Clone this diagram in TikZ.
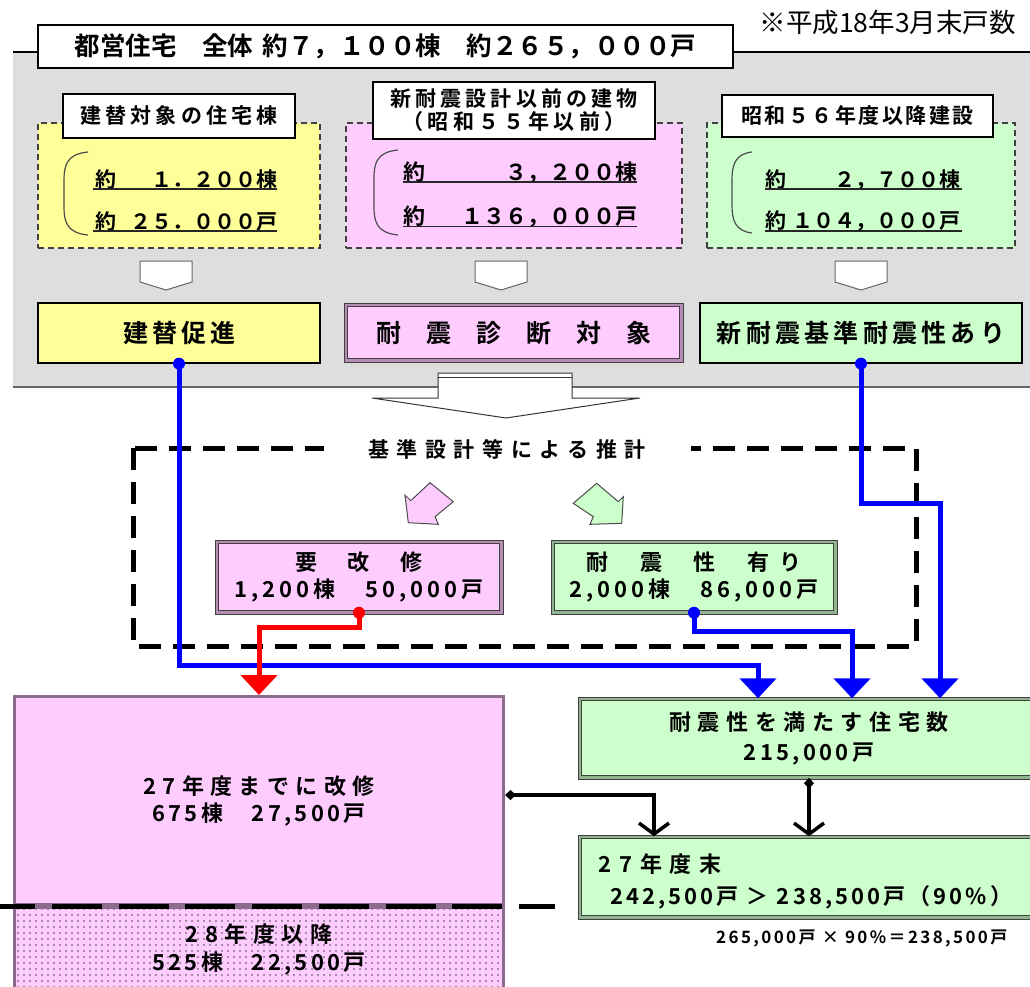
\documentclass[tikz,border=0pt]{standalone}
\usepackage{fontspec}
\newfontfamily\jb{Noto Sans CJK JP}[UprightFont=* Bold]
\newfontfamily\jr{Noto Sans CJK JP}
\usetikzlibrary{arrows.meta,patterns.meta,calc}
\definecolor{yelF}{HTML}{FFFF99}
\definecolor{pinkF}{HTML}{FFCCFF}
\definecolor{greenF}{HTML}{CCFFCC}
\definecolor{panel}{HTML}{DEDEDE}
\definecolor{pband}{HTML}{B48CB4}
\definecolor{gband}{HTML}{8FB48F}
\definecolor{kborder}{HTML}{8C6C8C}
\definecolor{bl}{HTML}{0000FF}
\definecolor{rd}{HTML}{FF0000}
\newcommand{\fsz}[2]{\fontsize{#1}{#2}\selectfont}
\newcommand{\lsp}[1]{\addfontfeature{LetterSpace=#1}}
\tikzset{
 lbl/.style={draw=black, line width=1.1pt, fill=white, inner sep=0pt, font=\jb\fsz{21}{23}},
 dashbx/.style={draw=black!75, line width=1.3pt, dash pattern=on 6pt off 4pt, inner sep=0pt},
 plainbx/.style={draw=black, line width=1.3pt, inner sep=0pt},
 pdbl/.style={draw=black!75, double=pband, double distance=2.5pt, line width=1pt, fill=pinkF, inner sep=0pt},
 gdbl/.style={draw=black!75, double=gband, double distance=2.5pt, line width=1pt, fill=greenF, inner sep=0pt},
 wharrow/.style={draw=black!60, line width=1pt, fill=white},
 numtxt/.style={anchor=west, inner sep=0pt, font=\jb\fsz{21}{23}},
 uline/.style={draw=black!85, line width=1.3pt},
 brk/.style={draw=black!70, line width=1.2pt},
 bline/.style={draw=bl, line width=5pt, -{Triangle[width=36pt,length=20pt]}},
 rline/.style={draw=rd, line width=5pt, -{Triangle[width=36pt,length=20pt]}},
 kline/.style={draw=black, line width=3.5pt, {Diamond[length=11pt,width=10pt]}-{Straight Barb[length=11pt,width=30pt]}},
 pent/.style={draw=black!70, line width=1pt}
}
\begin{document}
\begin{tikzpicture}[x=1pt,y=-1pt,font=\jb]
\useasboundingbox (0,0) rectangle (1030,987);
\clip (0,0) rectangle (1030,987);
\fill[white] (0,0) rectangle (1030,987);
% gray panel
\fill[panel] (13,52) rectangle (1040,387);
\draw[line width=1.2pt] (13,52) -- (1040,52);
\draw[black!60,line width=1.2pt] (13,387) -- (1040,387);
% title and note
\node[plainbx, fill=white, minimum width=695pt, minimum height=43pt, font=\jb\fsz{25.5}{30}] (title) at (385.5,46.5) {都営住宅　全体\hspace{10pt}約７，１００棟　約２６５，０００戸};
\node[anchor=east, inner sep=0pt, font=\jr\fsz{26.5}{28}] (note) at (1016,22) {※平成18年3月末戸数};
% dashed boxes
\node[dashbx, fill=yelF, minimum width=282pt, minimum height=125pt] (ybox) at (179,185.5) {};
\node[dashbx, fill=pinkF, minimum width=336pt, minimum height=125pt] (pbox) at (514,185.5) {};
\node[dashbx, fill=greenF, minimum width=308pt, minimum height=125pt] (gbox) at (861,185.5) {};
\node[lbl, minimum width=232pt, minimum height=44pt] (ylab) at (179,116) {\lsp{20}建替対象の住宅棟};
\node[lbl, minimum width=282pt, minimum height=57pt, align=center] (plab) at (514,110.5) {{\lsp{20}新耐震設計以前の建物}\\{\lsp{20}（昭和５５年以前）}};
\node[lbl, minimum width=271pt, minimum height=42pt] (glab) at (857.5,116) {\lsp{12}昭和５６年度以降建設};
% brackets
\draw[brk] (88,152) .. controls (67,154) and (64,165) .. (64,180) -- (64,207) .. controls (64,222) and (67,233) .. (88,235);
\draw[brk] (398,150) .. controls (377,152) and (374,163) .. (374,178) -- (374,207) .. controls (374,222) and (377,233) .. (398,235);
\draw[brk] (752,152) .. controls (735,154) and (732,165) .. (732,180) -- (732,205) .. controls (732,220) and (735,231) .. (752,233);
% numbers
\node[numtxt, text width=182pt] (y1) at (95,180) {約\hfill １．２００棟};
\node[numtxt, text width=182pt] (y2) at (95,221.5) {約\hfill ２５．０００戸};
\draw[uline] (93,189) -- (277,189);
\draw[uline] (93,231) -- (277,231);
\node[numtxt, text width=234pt, font=\jb\fsz{22}{24}] (p1) at (403,172.5) {約\hfill ３，２００棟};
\node[numtxt, text width=234pt, font=\jb\fsz{22}{24}] (p2) at (403,216.5) {約\hfill １３６，０００戸};
\draw[uline] (403,182) -- (637,182);
\draw[uline] (403,226.5) -- (637,226.5);
\node[numtxt, text width=195pt] (g1) at (765,180) {約\hfill ２，７００棟};
\node[numtxt, text width=195pt] (g2) at (765,221.5) {約\hfill １０４，０００戸};
\draw[uline] (765,189) -- (962,189);
\draw[uline] (765,231) -- (962,231);
% small white arrows
\foreach \c in {166,501,861}{
  \draw[wharrow] (\c-26,261) -- (\c+26,261) -- (\c+26,282) -- (\c,290) -- (\c-26,282) -- cycle;
}
% second row boxes
\node[plainbx, fill=yelF, minimum width=282pt, minimum height=60pt, font=\jb\fsz{25}{28}] (kaichiku) at (179,333) {\lsp{16}建替促進};
\node[pdbl, minimum width=335.5pt, minimum height=55.5pt, font=\jb\fsz{25}{28}] (shindan) at (513.5,332.5) {耐　震　診　断　対　象};
\node[plainbx, fill=greenF, minimum width=322pt, minimum height=60pt, font=\jb\fsz{25}{28}] (taishin) at (861,333) {\lsp{17}新耐震基準耐震性あり};
% big arrow
\draw[black!80, fill=white, line width=1pt] (438,373) -- (572,373) -- (572,398) -- (640,398) -- (506,418) -- (372,398) -- (438,398) -- cycle;
\draw[black!80, line width=1pt] (438,377) -- (572,377);
% dashed estimation region
\draw[line width=5pt, dash pattern=on 22pt off 12pt] (133,448) rectangle (916,646);
\node[fill=white, inner sep=0pt, minimum width=367pt, minimum height=16pt, font=\jb\fsz{21}{23}] (suikei) at (507,449) {\lsp{36}基準設計等による推計};
% pentagon arrows
\draw[pent, fill=pinkF] (408.3,522.7) -- (405,495) -- (410.7,500.7) -- (430,482.7) -- (453.3,501.7) -- (435,516.7) -- (438.3,524.3) -- cycle;
\draw[pent, fill=greenF] (621.7,523.3) -- (623.3,496.7) -- (618.3,501.7) -- (596.7,483.3) -- (573.3,503.3) -- (593.3,516.7) -- (590,524.3) -- cycle;
% estimate boxes
\node[pdbl, minimum width=284.5pt, minimum height=70.5pt, align=center, font=\jb\fsz{22}{27}] (yokaishu) at (359,577) {{\lsp{20}要　改　修}\\{\lsp{18}1,200棟　50,000戸}};
\node[gdbl, minimum width=282.5pt, minimum height=70.5pt, align=center, font=\jb\fsz{22}{27}] (taishinari) at (694,577) {{\lsp{22}耐　震　性　有 り}\\{\lsp{18}2,000棟　86,000戸}};
% lower-left pink boxes
\node[draw=kborder, line width=3pt, fill=pinkF, minimum width=489pt, minimum height=208pt, inner sep=0pt, align=center, font=\jb\fsz{22}{27}] (kaishu) at (259,800.5) {{\lsp{29}27年度までに改修}\\{\lsp{15}675棟　27,500戸}};
\node[draw=kborder, line width=3pt, preaction={fill=pinkF}, pattern={Dots[distance=6pt,radius=0.8pt]}, pattern color=black!70, minimum width=489pt, minimum height=83pt, inner sep=0pt, align=center, font=\jb\fsz{22}{28}] (ikou) at (259,949) {{\lsp{30}28年度以降}\\{\lsp{15}525棟　22,500戸}};
\coordinate (sepL) at (-14.7,906);
\coordinate (sepR) at (555,906);
\draw[line width=5pt, dash pattern=on 50pt off 16.7pt] (sepL) -- (sepR);
% right green boxes
\node[gdbl, minimum width=458.5pt, minimum height=78.5pt, align=center, font=\jb\fsz{22}{30}] (mitasu) at (809,738) {{\lsp{30}耐震性を満たす住宅数}\\{\lsp{15}215,000戸}};
\node[gdbl, minimum width=458.5pt, minimum height=80.5pt] (matsu) at (809,877) {};
\node[anchor=west, inner sep=0pt, align=left, font=\jb\fsz{22}{32}] (matsutxt) at (598,881) {{\lsp{36}27年度末}\\\hspace*{12pt}{\lsp{14}242,500戸 ＞ 238,500戸（90\%）}};
\node[anchor=west, inner sep=0pt, font=\jb\fsz{17}{20}] (calc) at (716,938) {\lsp{14}265,000戸 × 90\%＝238,500戸};
% connectors
\coordinate (cA) at (758,665);
\coordinate (cB) at (852,631);
\coordinate (cC) at (940,503);
\draw[bline] (kaichiku.south) |- (cA) -- (cA |- mitasu.north);
\draw[bline] (taishinari.south) |- (cB) -- (cB |- mitasu.north);
\draw[bline] (taishin.south) |- (cC) -- (cC |- mitasu.north);
\draw[rline] (yokaishu.south) -- ++(0,15) -| (kaishu.north);
\fill[bl] (kaichiku.south) circle (6);
\fill[bl] (taishin.south) circle (6);
\fill[bl] (taishinari.south) circle (6);
\fill[rd] (yokaishu.south) circle (6);
\coordinate (cD) at (654,795);
\draw[kline] (kaishu.east |- cD) -- (cD) -- (cD |- matsu.north);
\draw[kline] (mitasu.south) -- (matsu.north);
\end{tikzpicture}
\end{document}
